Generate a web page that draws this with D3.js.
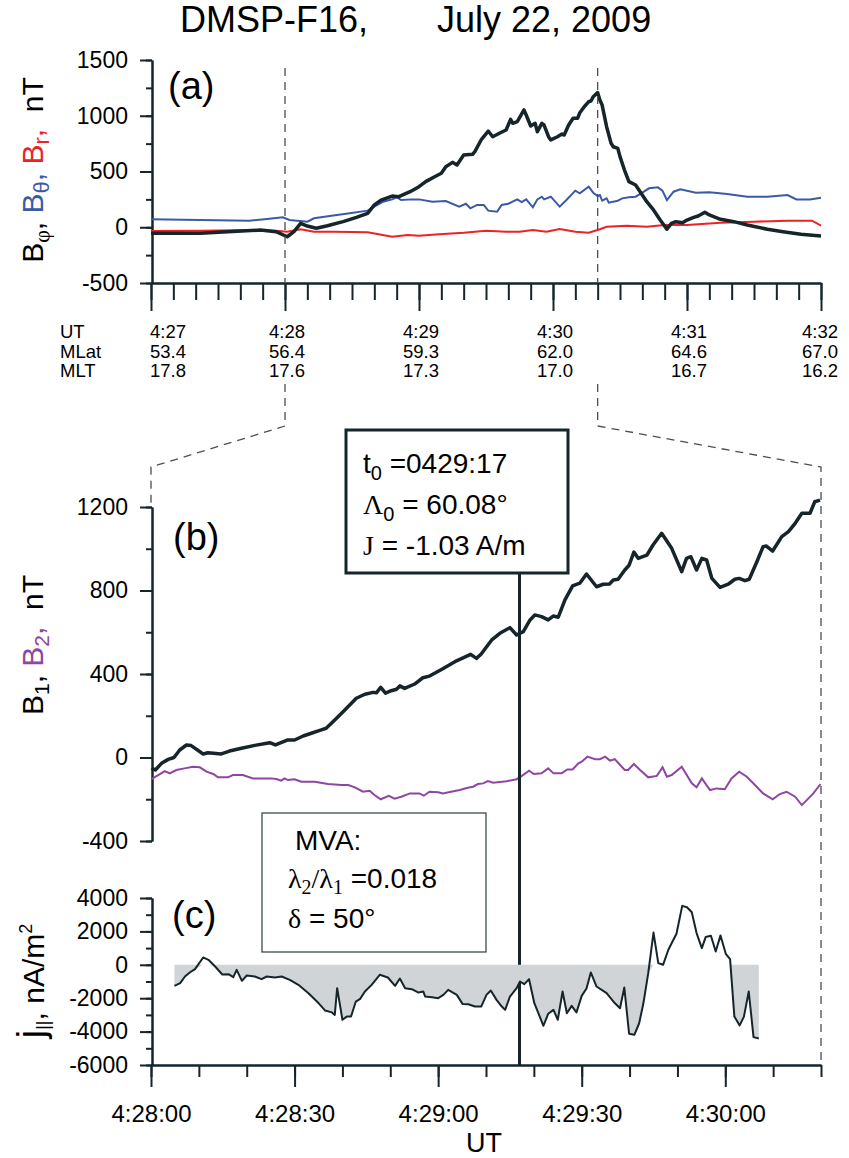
<!DOCTYPE html>
<html>
<head>
<meta charset="utf-8">
<script src="https://cdn.jsdelivr.net/npm/d3@7"></script>
<style>
  body { margin: 0; background: #fff; }
  text { font-family: "Liberation Sans", Arial, sans-serif; fill: #000; }
  .serif { font-family: "Liberation Serif", "Times New Roman", serif; }
</style>
</head>
<body>
<script>
// panel (a): seconds after 4:27:00, nT
const bPhi = [[0,-54],[22,-54],[49,-25],[56,-40],[61,-85],[64,-40],[67,35],[70,11],[74,-9],[79,14],[86,50],[92,89],[97,125],[100,200],[103,244],[108,280],[111,274],[116,319],[120,364],[123,409],[127,453],[130,484],[132,543],[135,582],[137,558],[140,648],[144,654],[145,678],[148,789],[151,863],[153,812],[156,843],[159,872],[161,968],[162,932],[164,947],[167,1052],[168,1007],[170,908],[172,932],[173,857],[175,932],[176,917],[178,812],[179,783],[182,812],[184,836],[185,827],[187,917],[189,977],[191,977],[192,1027],[194,1081],[196,1126],[197,1132],[198,1171],[200,1207],[201,1141],[202,1096],[204,902],[206,753],[207,722],[209,708],[210,633],[212,513],[214,409],[217,379],[219,319],[222,229],[225,155],[228,65],[231,-18],[233,35],[235,50],[238,41],[240,65],[243,89],[245,101],[248,134],[250,110],[255,71],[261,50],[267,20],[276,-18],[283,-40],[291,-63],[300,-78]];
const bTheta = [[0,71],[22,65],[44,59],[52,74],[59,89],[62,65],[70,50],[73,80],[80,101],[89,125],[97,149],[100,185],[104,229],[108,250],[110,269],[112,244],[117,250],[120,250],[126,229],[132,235],[138,185],[141,211],[143,170],[146,200],[149,200],[151,149],[155,140],[157,200],[160,211],[164,250],[166,226],[168,250],[171,179],[173,250],[175,274],[176,250],[179,274],[183,185],[186,244],[190,328],[192,304],[196,364],[198,310],[200,280],[201,289],[202,238],[204,259],[205,220],[209,238],[211,259],[214,269],[217,274],[220,310],[223,349],[227,358],[229,328],[231,244],[234,319],[237,340],[244,310],[250,313],[258,298],[267,274],[276,274],[285,289],[289,250],[295,250],[300,265]];
const bR = [[0,-34],[22,-31],[44,-25],[56,-31],[61,-40],[67,-18],[73,-40],[82,-40],[97,-45],[108,-85],[115,-70],[120,-76],[129,-63],[140,-49],[150,-31],[159,-40],[165,-40],[171,-25],[177,-40],[183,-15],[190,-40],[196,-49],[201,-18],[204,4],[213,13],[222,4],[230,20],[240,20],[255,41],[270,50],[285,59],[296,59],[300,14]];

const utTicks = [0, 60, 120, 180, 240, 300];
const utLabels = ['4:27', '4:28', '4:29', '4:30', '4:31', '4:32'];
const mlatLabels = ['53.4', '56.4', '59.3', '62.0', '64.6', '67.0'];
const mltLabels = ['17.8', '17.6', '17.3', '17.0', '16.7', '16.2'];

// panel (b): seconds after 4:28:00, nT
const b1 = [[0.1,-50],[0.9,-60],[2.2,-28],[3.6,-9],[4.8,0],[6.0,36],[7.4,60],[8.4,57],[10.9,17],[11.9,23],[14.7,17],[16.4,31],[18.9,44],[21.7,58],[24.8,71],[26.0,60],[28.6,84],[30.0,84],[31.8,103],[33.5,116],[35.6,132],[36.6,140],[38.4,180],[40.5,228],[42.9,284],[44.7,303],[46.4,312],[47.1,310],[48.0,336],[49.0,308],[50.2,320],[51.3,327],[52.0,343],[53.0,331],[55.1,352],[56.8,382],[58.2,390],[60.7,422],[63.5,459],[66.8,494],[68.0,475],[69.0,496],[70.4,539],[71.2,563],[72.9,595],[75.0,622],[76.4,587],[77.8,603],[79.2,659],[80.2,683],[81.6,675],[83.0,659],[84.1,678],[85.1,672],[86.5,755],[88.1,822],[89.6,835],[91.0,879],[93.1,818],[94.5,830],[95.8,831],[96.6,850],[97.6,854],[99.0,898],[99.9,921],[100.9,984],[101.8,954],[103.6,969],[104.9,1018],[106.7,1074],[108.8,1002],[110.9,890],[111.9,954],[112.8,962],[114.0,898],[115.1,954],[116.1,946],[117.2,858],[118.9,815],[120.6,830],[122.0,854],[122.9,858],[124.1,847],[125.0,854],[126.6,938],[127.9,1010],[128.6,1013],[129.9,989],[131.8,1058],[133.2,1082],[134.6,1122],[136.0,1170],[137.7,1170],[138.7,1225],[139.8,1233]];
const b2 = [[0.1,-104],[1.5,-84],[2.9,-65],[3.9,-76],[5.3,-60],[7.0,-52],[8.8,-44],[10.2,-47],[11.6,-68],[13.0,-79],[14.0,-95],[16.1,-95],[17.1,-84],[19.2,-84],[21.3,-100],[25.1,-100],[26.2,-103],[27.2,-111],[27.9,-100],[28.6,-108],[30.0,-104],[31.4,-116],[34.2,-116],[37.0,-127],[39.8,-132],[41.2,-132],[42.6,-143],[44.3,-164],[45.7,-159],[46.7,-180],[48.0,-200],[49.7,-184],[50.9,-197],[52.3,-188],[54.1,-172],[56.1,-172],[57.0,-183],[58.2,-164],[60.0,-167],[61.0,-172],[62.7,-164],[64.5,-156],[66.2,-145],[67.3,-140],[68.3,-127],[69.4,-124],[70.4,-113],[71.5,-121],[74.3,-114],[76.4,-104],[77.5,-88],[79.0,-63],[80.0,-79],[81.6,-76],[83.0,-52],[84.1,-76],[85.8,-76],[87.0,-57],[88.1,-57],[89.3,-28],[90.0,-20],[91.2,4],[92.8,-8],[93.8,-8],[94.9,4],[95.9,-15],[96.9,-8],[99.0,-60],[99.7,-60],[100.9,-31],[102.2,-60],[103.9,-95],[105.7,-88],[106.9,-47],[107.8,-92],[108.8,-84],[110.9,-44],[113.0,-124],[114.0,-143],[115.1,-100],[116.8,-156],[118.2,-148],[119.9,-152],[121.3,-100],[122.9,-68],[124.5,-92],[126.2,-132],[127.9,-172],[129.9,-200],[131.4,-175],[132.8,-164],[134.6,-188],[136.0,-228],[138.4,-172],[139.9,-127]];

// panel (c): seconds after 4:28:00, nA/m^2
const jPar = [[4.9,-1257],[6.1,-1100],[7.1,-700],[8.1,-460],[9.2,-260],[10.9,440],[12.0,300],[13.4,-100],[14.9,-580],[16.2,-560],[17.2,-740],[17.9,-300],[19.0,-960],[20.0,-640],[21.7,-700],[23.1,-860],[24.2,-700],[25.9,-760],[27.3,-700],[29.0,-900],[30.8,-1200],[32.9,-1700],[35.0,-2290],[36.4,-2740],[37.8,-2850],[38.4,-3000],[38.9,-1400],[40.0,-3290],[40.9,-3100],[41.8,-3100],[42.8,-2200],[43.7,-2040],[44.7,-1600],[46.1,-1200],[47.8,-600],[49.5,-760],[51.0,-1260],[52.0,-820],[53.1,-1400],[54.5,-1460],[55.9,-1660],[56.9,-1600],[57.3,-1900],[58.7,-1940],[60.0,-2000],[61.1,-1800],[62.1,-1500],[63.9,-1800],[65.1,-2340],[66.3,-2360],[67.7,-2500],[69.0,-2500],[70.1,-1800],[71.0,-1540],[72.2,-2100],[73.3,-2500],[74.0,-2700],[75.0,-1900],[76.4,-1400],[77.1,-1000],[78.0,-1160],[79.0,-860],[80.1,-2300],[82.0,-3650],[83.0,-2930],[84.1,-2700],[85.0,-3290],[86.0,-1600],[86.9,-2900],[87.9,-2460],[88.9,-2850],[90.0,-1860],[91.0,-1420],[91.9,-460],[93.1,-1300],[95.2,-1700],[96.9,-2290],[98.0,-2600],[98.9,-1360],[99.9,-4130],[101.0,-4190],[102.0,-3500],[102.9,-2290],[103.9,-500],[105.0,1930],[106.0,100],[107.0,0],[108.1,900],[109.8,1860],[111.0,3530],[112.0,3450],[113.0,3150],[114.0,1900],[115.1,1000],[115.9,1660],[117.0,1740],[118.0,800],[119.0,1760],[120.1,660],[121.0,340],[121.9,-3100],[123.0,-3630],[123.9,-3100],[124.9,-1600],[125.9,-4330],[127.0,-4410]];

const cTicks = [0, 30, 60, 90, 120];
const cTickLabels = ['4:28:00', '4:28:30', '4:29:00', '4:29:30', '4:30:00'];
const t0 = 77; // 4:29:17

const ink = '#15252a';
const blue = '#3a5aa8';
const red = '#ec2227';
const purple = '#8f45a2';

const width = 849, height = 1158;
const svg = d3.select('body').append('svg')
  .attr('width', width).attr('height', height);

// scales
const xA = d3.scaleLinear().domain([0, 300]).range([151, 821]);
const yA = d3.scaleLinear().domain([-500, 1500]).range([283, 60]);
const xB = d3.scaleLinear().domain([0, 140]).range([151, 821]);
const yB = d3.scaleLinear().domain([-400, 1200]).range([841, 507]);
const yC = d3.scaleLinear().domain([-6000, 4000]).range([1065, 898]);

const fmt = d => String(d);

function styleAxis(g, fs) {
  g.selectAll('path, line').attr('stroke', ink).attr('stroke-width', 2);
  g.selectAll('text').attr('font-size', fs)
    .attr('font-family', '"Liberation Sans", Arial, sans-serif').attr('fill', '#000');
}

function leftAxis(scale, x, major, minor) {
  const gm = svg.append('g').attr('transform', 'translate(' + x + ',0)')
    .call(d3.axisLeft(scale).tickValues(minor).tickSize(6).tickSizeOuter(0).tickFormat(''));
  styleAxis(gm, 23);
  const g = svg.append('g').attr('transform', 'translate(' + x + ',0)')
    .call(d3.axisLeft(scale).tickValues(major).tickSize(12).tickSizeOuter(0)
      .tickPadding(12).tickFormat(fmt));
  styleAxis(g, 23);
}

// title
svg.append('text').attr('x', 180).attr('y', 32).attr('font-size', 36).text('DMSP-F16,');
svg.append('text').attr('x', 437).attr('y', 32).attr('font-size', 36).text('July 22, 2009');

// ---------- panel (a)
leftAxis(yA, 152, [-500, 0, 500, 1000, 1500], d3.range(-500, 1501, 250));

const gxm = svg.append('g').attr('transform', 'translate(0,283)')
  .call(d3.axisBottom(xA).tickValues(d3.range(0, 301, 10)).tickSize(17).tickSizeOuter(0).tickFormat(''));
styleAxis(gxm, 20);
const gx = svg.append('g').attr('transform', 'translate(0,283)')
  .call(d3.axisBottom(xA).tickValues(utTicks).tickSize(28).tickSizeOuter(0).tickFormat(''));
styleAxis(gx, 20);

const rows = [['UT', utLabels, 338], ['MLat', mlatLabels, 357.5], ['MLT', mltLabels, 377]];
rows.forEach(([name, labels, y]) => {
  svg.append('text').attr('x', 60).attr('y', y).attr('font-size', 18.5).text(name);
  svg.selectAll(null).data(labels).enter().append('text')
    .attr('x', (d, i) => i === 0 ? xA(utTicks[i]) - 1 : xA(utTicks[i]) + (i === 5 ? -1 : 2))
    .attr('y', y).attr('text-anchor', (d, i) => i === 0 ? 'start' : 'middle')
    .attr('font-size', 18.5).text(d => d);
});

const lineA = d3.line().x(d => xA(d[0])).y(d => yA(d[1]));
svg.append('path').datum(bR).attr('d', lineA).attr('fill', 'none')
  .attr('stroke', red).attr('stroke-width', 2);
svg.append('path').datum(bTheta).attr('d', lineA).attr('fill', 'none')
  .attr('stroke', blue).attr('stroke-width', 2);
svg.append('path').datum(bPhi).attr('d', lineA).attr('fill', 'none')
  .attr('stroke', ink).attr('stroke-width', 3.5).attr('stroke-linejoin', 'round');

svg.append('text').attr('x', 168).attr('y', 99).attr('font-size', 38).text('(a)');

// y title (a)
const ta = svg.append('text').attr('transform', 'translate(43,170) rotate(-90)')
  .attr('text-anchor', 'middle').attr('font-size', 30);
ta.append('tspan').text('B');
ta.append('tspan').attr('class', 'serif').attr('font-size', 22).attr('dy', 6).text('φ');
ta.append('tspan').attr('dy', -6).text(', ');
ta.append('tspan').style('fill', blue).text('B');
ta.append('tspan').style('fill', blue).attr('font-size', 22).attr('dy', 6).text('θ');
ta.append('tspan').style('fill', blue).attr('dy', -6).text(', ');
ta.append('tspan').style('fill', red).text('B');
ta.append('tspan').style('fill', red).attr('font-size', 22).attr('dy', 6).text('r');
ta.append('tspan').style('fill', red).attr('dy', -6).text(',');
ta.append('tspan').text('\u00a0\u00a0nT');

// zoom guides
const dash = g => g.attr('fill', 'none').attr('stroke', '#4a4f52')
  .attr('stroke-width', 1.3).attr('stroke-dasharray', '8,6');
[60, 200].forEach(s => {
  svg.append('line').attr('x1', xA(s)).attr('x2', xA(s)).attr('y1', 68).attr('y2', 283).call(dash);
});
svg.append('path').attr('d', d3.line()([[xA(60), 384], [xA(60), 426], [xB(0), 467], [xB(0), 507]])).call(dash);
svg.append('path').attr('d', d3.line()([[xA(200), 384], [xA(200), 426], [xB(140), 467], [xB(140), 1065]])).call(dash);

// ---------- panel (b)
leftAxis(yB, 152, [-400, 0, 400, 800, 1200], d3.range(-400, 1201, 200));

const lineB = d3.line().x(d => xB(d[0])).y(d => yB(d[1]));
svg.append('path').datum(b2).attr('d', lineB).attr('fill', 'none')
  .attr('stroke', purple).attr('stroke-width', 2);
svg.append('path').datum(b1).attr('d', lineB).attr('fill', 'none')
  .attr('stroke', ink).attr('stroke-width', 3.5).attr('stroke-linejoin', 'round');

svg.append('text').attr('x', 173).attr('y', 550).attr('font-size', 38).text('(b)');

const tb = svg.append('text').attr('transform', 'translate(43,645) rotate(-90)')
  .attr('text-anchor', 'middle').attr('font-size', 30);
tb.append('tspan').text('B');
tb.append('tspan').attr('font-size', 21).attr('dy', 6).text('1');
tb.append('tspan').attr('dy', -6).text(', ');
tb.append('tspan').style('fill', purple).text('B');
tb.append('tspan').style('fill', purple).attr('font-size', 21).attr('dy', 6).text('2');
tb.append('tspan').style('fill', purple).attr('dy', -6).text(',');
tb.append('tspan').text('\u00a0\u00a0nT');

// t0 line and box
svg.append('line').attr('x1', xB(t0)).attr('x2', xB(t0)).attr('y1', 573).attr('y2', 1065)
  .attr('stroke', ink).attr('stroke-width', 3);
svg.append('rect').attr('x', 346).attr('y', 430).attr('width', 222).attr('height', 143)
  .attr('fill', '#fff').attr('stroke', ink).attr('stroke-width', 3);
const l1 = svg.append('text').attr('x', 363).attr('y', 473).attr('font-size', 28);
l1.append('tspan').text('t');
l1.append('tspan').attr('font-size', 20).attr('dy', 7).text('0');
l1.append('tspan').attr('dy', -7).text(' =0429:17');
const l2 = svg.append('text').attr('x', 363).attr('y', 514).attr('font-size', 28);
l2.append('tspan').attr('class', 'serif').text('Λ');
l2.append('tspan').attr('font-size', 20).attr('dy', 7).text('0');
l2.append('tspan').attr('dy', -7).text(' = 60.08°');
const l3 = svg.append('text').attr('x', 363).attr('y', 555).attr('font-size', 28);
l3.append('tspan').attr('class', 'serif').text('J');
l3.append('tspan').text(' = -1.03 A/m');

// ---------- panel (c)
leftAxis(yC, 152, [-6000, -4000, -2000, 0, 2000, 4000], d3.range(-6000, 4001, 1000));

const area = d3.area().x(d => xB(d[0])).y0(yC(0)).y1(d => yC(Math.min(d[1], 0)));
svg.append('path').datum(jPar).attr('d', area).attr('fill', '#d1d4d7');
svg.append('path').datum(jPar)
  .attr('d', d3.line().x(d => xB(d[0])).y(d => yC(d[1])))
  .attr('fill', 'none').attr('stroke', ink).attr('stroke-width', 2).attr('stroke-linejoin', 'round');

const gcm = svg.append('g').attr('transform', 'translate(0,1065)')
  .call(d3.axisBottom(xB).tickValues(d3.range(0, 141, 10)).tickSize(12).tickSizeOuter(0).tickFormat(''));
styleAxis(gcm, 23);
const gc = svg.append('g').attr('transform', 'translate(0,1065)')
  .call(d3.axisBottom(xB).tickValues(cTicks).tickSize(22).tickSizeOuter(0)
    .tickPadding(18).tickFormat((d, i) => cTickLabels[i]));
styleAxis(gc, 24);

svg.append('text').attr('x', 484).attr('y', 1152).attr('text-anchor', 'middle')
  .attr('font-size', 27).text('UT');

svg.append('text').attr('x', 172).attr('y', 928).attr('font-size', 38).text('(c)');

const tc = svg.append('text').attr('transform', 'translate(44,981) rotate(-90)')
  .attr('text-anchor', 'middle').attr('font-size', 30);
tc.append('tspan').attr('font-size', 38).text('j');
tc.append('tspan').attr('font-size', 18).attr('dy', 5).text('||');
tc.append('tspan').attr('dy', -5).text(',\u00a0nA/m');
tc.append('tspan').attr('font-size', 18).attr('dy', -12).text('2');

// MVA box
svg.append('rect').attr('x', 262).attr('y', 813).attr('width', 224).attr('height', 139)
  .attr('fill', '#fff').attr('stroke', '#2c3b40').attr('stroke-width', 1.2);
svg.append('text').attr('x', 295).attr('y', 850).attr('font-size', 28).text('MVA:');
const m2 = svg.append('text').attr('x', 288).attr('y', 888).attr('font-size', 28);
m2.append('tspan').attr('class', 'serif').text('λ');
m2.append('tspan').attr('class', 'serif').attr('font-size', 20).attr('dy', 6).text('2');
m2.append('tspan').attr('class', 'serif').attr('dy', -6).text('/λ');
m2.append('tspan').attr('class', 'serif').attr('font-size', 20).attr('dy', 6).text('1');
m2.append('tspan').attr('dy', -6).text(' =0.018');
const m3 = svg.append('text').attr('x', 288).attr('y', 928).attr('font-size', 28);
m3.append('tspan').attr('class', 'serif').text('δ');
m3.append('tspan').text(' = 50°');
</script>
</body>
</html>
